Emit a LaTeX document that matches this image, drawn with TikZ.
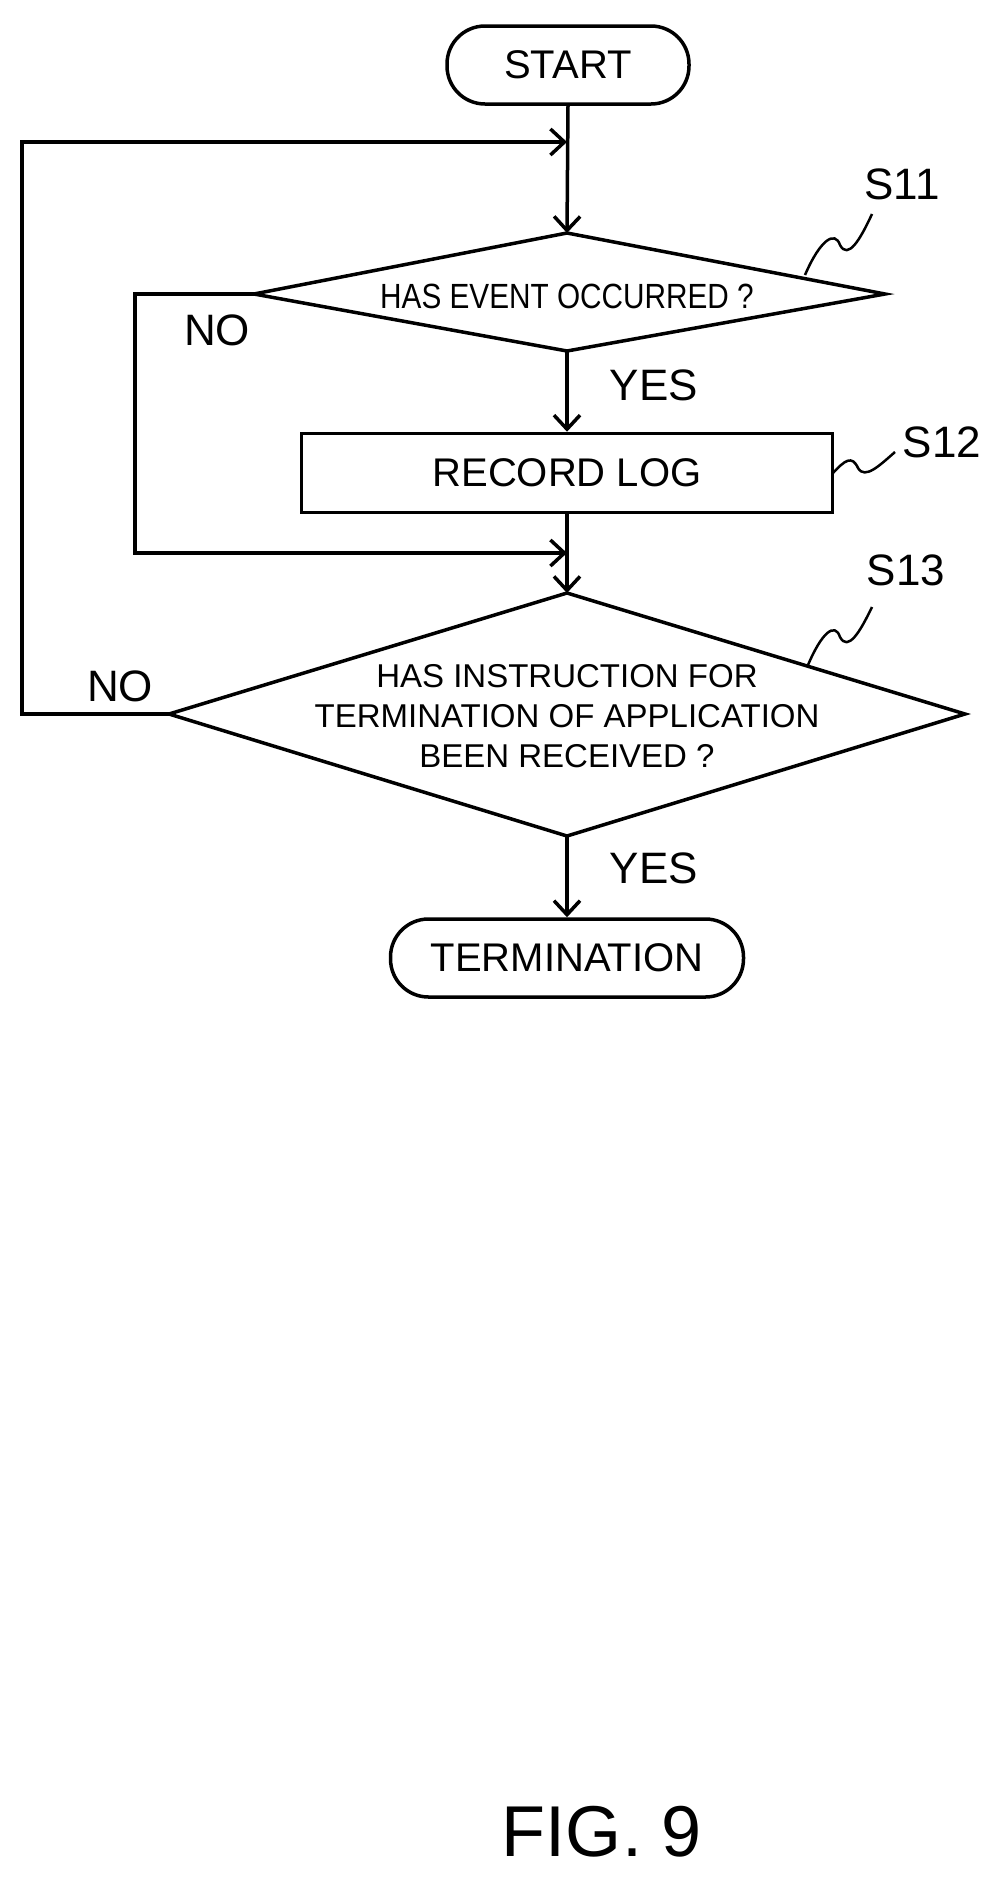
\documentclass[tikz,border=0pt]{standalone}
\usepackage{fontspec}
\setmainfont{Liberation Sans}
\usetikzlibrary{arrows.meta,shapes.geometric}
\begin{document}
\begin{tikzpicture}[x=1pt,y=-1pt,line width=3.5pt,
  arr/.style={-{Straight Barb[length=14pt,width=26pt,line width=3.5pt]}},
  term/.style={draw,rounded corners=38pt,minimum width=#1,minimum height=78pt,font=\fontsize{40}{44}\selectfont},
  lbl/.style={font=\fontsize{44}{48}\selectfont},
  sq/.style={line width=2.5pt}]
\useasboundingbox (0,0) rectangle (997,1901);
\node[term=242pt] (start) at (568,65) {START};
\coordinate (d1) at (567,294);
\draw (567,233) coordinate (d1t) -- (885,294) coordinate (d1r) -- (567,351) coordinate (d1b) -- (254,294) coordinate (d1l) -- cycle;
\node[font=\fontsize{35}{38}\selectfont,xscale=0.85] (t1) at (567,296) {HAS EVENT OCCURRED ?};
\node[draw,minimum width=531pt,minimum height=79pt,font=\fontsize{40}{44}\selectfont,inner sep=0] (log) at (567,473) {RECORD LOG};
\draw (567,593) coordinate (d2t) -- (965,714) coordinate (d2r) -- (567,836) coordinate (d2b) -- (169,714) coordinate (d2l) -- cycle;
\node[font=\fontsize{33}{40}\selectfont,align=center] (t2) at (567,716) {HAS INSTRUCTION FOR\\TERMINATION OF APPLICATION\\BEEN RECEIVED ?};
\node[term=353pt] (end) at (567,958) {TERMINATION};
\coordinate (j1) at (567,142);
\coordinate (j2) at (567,553);
\draw[arr] (start.south) -- (d1t);
\draw[arr] (d1b) -- (log.north);
\draw[arr] (log.south) -- (d2t);
\draw[arr] (d2b) -- (end.north);
\draw[arr] (d1l) -- (135,294) -- (135,553) -- (j2);
\draw[arr] (d2l) -- (22,714) -- (22,142) -- (j1);
\node[lbl] (no1) at (217,330) {NO};
\node[lbl] (yes1) at (654,385) {YES};
\node[lbl] (no2) at (120,686) {NO};
\node[lbl] (yes2) at (654,868) {YES};
\node[lbl] (s11) at (902,184) {S11};
\node[lbl] (s12) at (942,442) {S12};
\node[lbl] (s13) at (906,570) {S13};
\draw[sq] (805,275) .. controls (820,240) and (835,230) .. (840,245) .. controls (848,260) and (860,240) .. (872,214);
\draw[sq] (833,473) .. controls (845,460) and (852,455) .. (858,468) .. controls (865,480) and (880,465) .. (895,452);
\draw[sq] (808,665) .. controls (822,632) and (835,622) .. (840,637) .. controls (848,652) and (860,632) .. (872,607);
\node[font=\fontsize{72}{76}\selectfont] (fig) at (602,1832) {FIG. 9};
\end{tikzpicture}
\end{document}
